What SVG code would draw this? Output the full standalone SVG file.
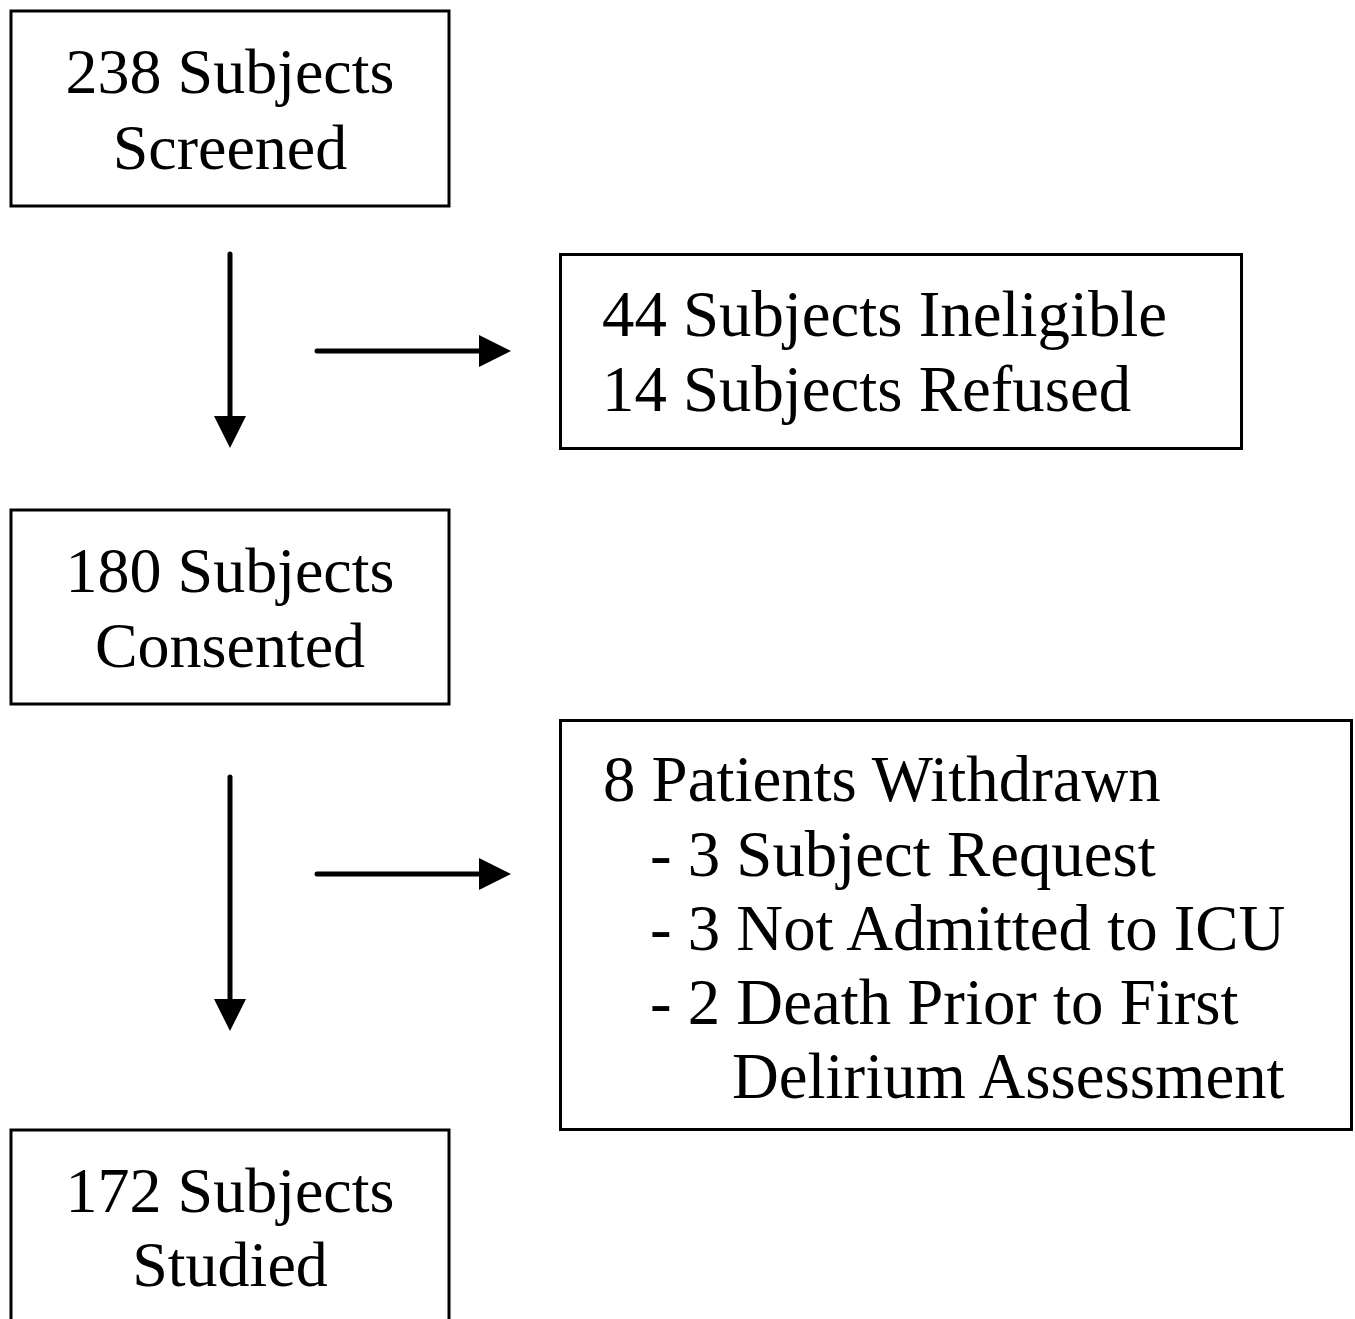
<svg xmlns="http://www.w3.org/2000/svg" width="1355" height="1319" viewBox="0 0 1355 1319">
<style>
.box{fill:#fff;stroke:#000;stroke-width:3}
.t{font-family:"Liberation Serif","Times New Roman",serif;font-size:64px;fill:#000}
.w{font-size:64.8px}
.c{text-anchor:middle}
.conn{stroke:#000;stroke-width:5;stroke-linecap:round;fill:none}
</style>
<defs>
<marker id="ah" viewBox="0 0 32 32" refX="4" refY="16" markerWidth="32" markerHeight="32" markerUnits="userSpaceOnUse" orient="auto">
<path d="M0,0 L32,16 L0,32 Z" fill="#000"/>
</marker>
</defs>
<rect width="1355" height="1319" fill="#fff"/>
<g id="n1">
<rect class="box" x="11" y="11" width="438" height="195"/>
<text class="t c" x="230" y="93">238 Subjects</text>
<text class="t c" x="230" y="169">Screened</text>
</g>
<g id="n2">
<rect class="box" x="560.5" y="254.5" width="681" height="194"/>
<text class="t w" x="602" y="336">44 Subjects Ineligible</text>
<text class="t w" x="602" y="411">14 Subjects Refused</text>
</g>
<g id="n3">
<rect class="box" x="11" y="510" width="438" height="194"/>
<text class="t c" x="230" y="592">180 Subjects</text>
<text class="t c" x="230" y="667">Consented</text>
</g>
<g id="n4">
<rect class="box" x="560.5" y="720.5" width="791" height="409"/>
<text class="t w" x="603" y="801">8 Patients Withdrawn</text>
<text class="t w" x="650" y="876">- 3 Subject Request</text>
<text class="t w" x="650" y="950">- 3 Not Admitted to ICU</text>
<text class="t w" x="650" y="1024">- 2 Death Prior to First</text>
<text class="t w" x="732" y="1098">Delirium Assessment</text>
</g>
<g id="n5">
<rect class="box" x="11" y="1130" width="438" height="200"/>
<text class="t c" x="230" y="1212">172 Subjects</text>
<text class="t c" x="230" y="1286">Studied</text>
</g>
<g id="connectors">
<line class="conn" x1="230" y1="254" x2="230" y2="420" marker-end="url(#ah)"/>
<line class="conn" x1="317" y1="351" x2="483" y2="351" marker-end="url(#ah)"/>
<line class="conn" x1="230" y1="777" x2="230" y2="1003" marker-end="url(#ah)"/>
<line class="conn" x1="317" y1="874" x2="483" y2="874" marker-end="url(#ah)"/>
</g>
</svg>
